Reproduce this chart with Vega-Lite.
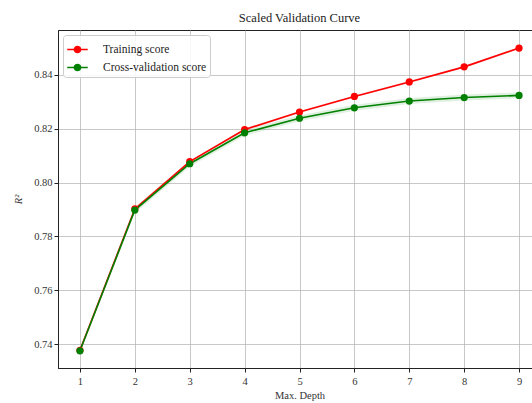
{
  "$schema": "https://vega.github.io/schema/vega-lite/v6.json",
  "autosize": {"type": "none"},
  "padding": {"left": 58, "top": 30, "right": 0, "bottom": 35},
  "width": 483,
  "height": 338,
  "background": "white",
  "title": {
    "text": "Scaled Validation Curve",
    "font": "Liberation Serif",
    "fontSize": 12.5,
    "fontWeight": "normal",
    "color": "#222222",
    "offset": 6
  },
  "config": {
    "view": {"stroke": "#222222", "strokeWidth": 1},
    "axis": {
      "labelFont": "Liberation Serif",
      "labelFontSize": 10.5,
      "labelColor": "#333333",
      "titleFont": "Liberation Serif",
      "titleFontSize": 10.5,
      "titleFontWeight": "normal",
      "titleColor": "#333333",
      "domainColor": "#222222",
      "tickColor": "#222222",
      "tickSize": 4,
      "gridColor": "#b0b0b0",
      "gridOpacity": 0.7,
      "gridWidth": 1
    }
  },
  "data": {
    "values": [
      {"depth": 1, "series": "Training score", "score": 0.7377, "lo": 0.7374, "hi": 0.7380},
      {"depth": 2, "series": "Training score", "score": 0.7902, "lo": 0.7898, "hi": 0.7906},
      {"depth": 3, "series": "Training score", "score": 0.8078, "lo": 0.8074, "hi": 0.8082},
      {"depth": 4, "series": "Training score", "score": 0.8197, "lo": 0.8193, "hi": 0.8201},
      {"depth": 5, "series": "Training score", "score": 0.8262, "lo": 0.8258, "hi": 0.8266},
      {"depth": 6, "series": "Training score", "score": 0.8320, "lo": 0.8316, "hi": 0.8324},
      {"depth": 7, "series": "Training score", "score": 0.8374, "lo": 0.8370, "hi": 0.8378},
      {"depth": 8, "series": "Training score", "score": 0.8430, "lo": 0.8426, "hi": 0.8434},
      {"depth": 9, "series": "Training score", "score": 0.8500, "lo": 0.8496, "hi": 0.8504},
      {"depth": 1, "series": "Cross-validation score", "score": 0.7375, "lo": 0.7365, "hi": 0.7385},
      {"depth": 2, "series": "Cross-validation score", "score": 0.7898, "lo": 0.7887, "hi": 0.7909},
      {"depth": 3, "series": "Cross-validation score", "score": 0.8070, "lo": 0.8059, "hi": 0.8081},
      {"depth": 4, "series": "Cross-validation score", "score": 0.8185, "lo": 0.8174, "hi": 0.8196},
      {"depth": 5, "series": "Cross-validation score", "score": 0.8239, "lo": 0.8228, "hi": 0.8250},
      {"depth": 6, "series": "Cross-validation score", "score": 0.8278, "lo": 0.8267, "hi": 0.8289},
      {"depth": 7, "series": "Cross-validation score", "score": 0.8303, "lo": 0.8292, "hi": 0.8314},
      {"depth": 8, "series": "Cross-validation score", "score": 0.8316, "lo": 0.8305, "hi": 0.8327},
      {"depth": 9, "series": "Cross-validation score", "score": 0.8324, "lo": 0.8313, "hi": 0.8335}
    ]
  },
  "encoding": {
    "x": {
      "field": "depth",
      "type": "quantitative",
      "title": "Max. Depth",
      "scale": {"domain": [0.6, 9.4], "nice": false, "zero": false},
      "axis": {"values": [1, 2, 3, 4, 5, 6, 7, 8, 9], "format": "d", "labelPadding": 4, "titlePadding": 4}
    },
    "color": {
      "field": "series",
      "type": "nominal",
      "scale": {
        "domain": ["Training score", "Cross-validation score"],
        "range": ["#ff0000", "#008000"]
      },
      "legend": {
        "title": null,
        "orient": "top-left",
        "offset": 5,
        "padding": 3,
        "rowPadding": -7,
        "fillColor": "rgba(255,255,255,0.85)",
        "strokeColor": "#cccccc",
        "cornerRadius": 3,
        "labelFont": "Liberation Serif",
        "labelFontSize": 11.5,
        "labelColor": "#222222",
        "symbolType": "M-1,0L1,0M-0.3,0A0.3,0.3 0 1,1 0.3,0A0.3,0.3 0 1,1 -0.3,0Z",
        "symbolSize": 420,
        "symbolOpacity": 1,
        "symbolStrokeWidth": 1.6,
        "labelOffset": 14
      }
    }
  },
  "layer": [
    {
      "mark": {"type": "area", "opacity": 0.12},
      "encoding": {
        "y": {"field": "lo", "type": "quantitative"},
        "y2": {"field": "hi"}
      }
    },
    {
      "mark": {"type": "line", "strokeWidth": 1.6},
      "encoding": {
        "y": {
          "field": "score",
          "type": "quantitative",
          "title": "R²",
          "scale": {"domain": [0.7311, 0.8567], "nice": false, "zero": false},
          "axis": {
            "values": [0.74, 0.76, 0.78, 0.8, 0.82, 0.84],
            "format": ".2f",
            "titleFontStyle": "italic",
            "titlePadding": 10
          }
        }
      }
    },
    {
      "mark": {"type": "point", "filled": true, "size": 52, "opacity": 1},
      "encoding": {
        "y": {"field": "score", "type": "quantitative"}
      }
    }
  ]
}
